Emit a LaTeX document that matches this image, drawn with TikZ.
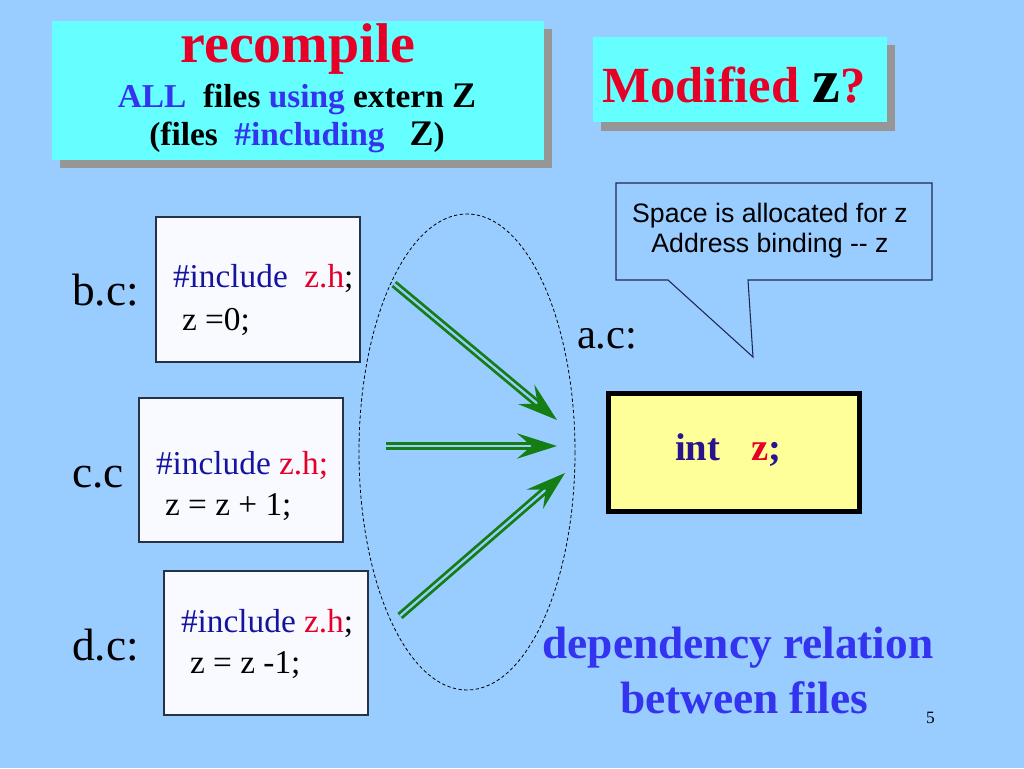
\documentclass[tikz,border=0pt]{standalone}
\usepackage{fontspec}
\setmainfont{Liberation Serif}
\newfontfamily\calloutfont{Liberation Sans}
\usetikzlibrary{arrows.meta}
\definecolor{bg}{RGB}{153,204,255}
\definecolor{cyanbox}{RGB}{102,255,255}
\definecolor{shadowgray}{RGB}{150,150,150}
\definecolor{redtxt}{RGB}{230,0,40}
\definecolor{bluetxt}{RGB}{51,51,240}
\definecolor{navytxt}{RGB}{20,20,160}
\definecolor{inttxt}{RGB}{40,20,140}
\definecolor{arrowgreen}{RGB}{20,125,20}
\definecolor{codefill}{RGB}{248,250,255}
\definecolor{codeborder}{RGB}{40,50,70}
\definecolor{calloutborder}{RGB}{30,40,80}
\definecolor{yellowbox}{RGB}{255,255,153}
\begin{document}
\begin{tikzpicture}[x=0.75pt,y=-0.75pt,
  txt/.style={inner sep=0pt, outer sep=0pt},
  codebox/.style={draw=codeborder, fill=codefill, line width=1.1pt},
  deparrow/.style={draw=arrowgreen, line width=2.1pt, double=bg, double distance=1.7pt,
    -{Stealth[length=30pt, width=19pt, inset=11pt, fill=arrowgreen]}},
  codefont/.style={font=\fontsize{25}{28}\selectfont},
  labelfont/.style={font=\fontsize{34}{38}\selectfont}]
\fill[bg] (0,0) rectangle (1024,768);
\useasboundingbox (0,0) rectangle (1024,768);

% title box
\fill[shadowgray] (60,29) rectangle (552,168);
\fill[cyanbox] (52,21) rectangle (544,160);
\node[txt, anchor=base, font=\fontsize{42}{46}\selectfont\bfseries, text=redtxt] (t1) at (298,62) {recompile};
\node[txt, anchor=base, font=\fontsize{25}{28}\selectfont\bfseries] (t2) at (297,107)
  {\textcolor{bluetxt}{ALL}\ \ files \textcolor{bluetxt}{using} extern {\fontsize{27}{30}\selectfont Z}};
\node[txt, anchor=base, font=\fontsize{25}{28}\selectfont\bfseries] (t3) at (297,145)
  {(files\ \ \textcolor{bluetxt}{\#including}\ \ \ {\fontsize{27}{30}\selectfont Z})};

% modified box
\fill[shadowgray] (601,45) rectangle (895,131);
\fill[cyanbox] (593,37) rectangle (887,122);
\node[txt, anchor=base, font=\fontsize{38}{42}\selectfont\bfseries, text=redtxt] (mod) at (734,102)
  {Modified {\color{black}\fontsize{47}{50}\selectfont z}?};

% callout
\draw[calloutborder, fill=bg, line width=0.8pt, line join=miter]
  (616,183) -- (932,183) -- (932,280) -- (748,280) -- (753,357) -- (668,280) -- (616,280) -- cycle;
\node[txt, anchor=base, font=\calloutfont\fontsize{20}{24}\selectfont] (c1) at (770,222) {Space is allocated for z};
\node[txt, anchor=base, font=\calloutfont\fontsize{20}{24}\selectfont] (c2) at (770,252) {Address binding -- z};

% file labels
\node[txt, anchor=base west, labelfont] (lb) at (72,305) {b.c:};
\node[txt, anchor=base west, labelfont] (lc) at (72,487) {c.c};
\node[txt, anchor=base west, labelfont] (ld) at (72,660) {d.c:};
\node[txt, anchor=base west, font=\fontsize{32}{36}\selectfont] (la) at (577,348) {a.c:};

% code boxes
\draw[codebox] (156,217) rectangle (360,362);
\draw[codebox] (139,398) rectangle (343,542);
\draw[codebox] (164,571) rectangle (368,715);
\node[txt, anchor=base west, codefont] (b1) at (173,287) {\textcolor{navytxt}{\#include}\ \ \textcolor{redtxt}{z.h};};
\node[txt, anchor=base west, codefont] (b2) at (182,330) {z =0;};
\node[txt, anchor=base west, codefont] (c1c) at (156,474) {\textcolor{navytxt}{\#include} \textcolor{redtxt}{z.h;}};
\node[txt, anchor=base west, codefont] (c2c) at (165,515) {z = z + 1;};
\node[txt, anchor=base west, codefont] (d1) at (181,632) {\textcolor{navytxt}{\#include} \textcolor{redtxt}{z.h};};
\node[txt, anchor=base west, codefont] (d2) at (190,673) {z = z -1;};

% ellipse
\draw[black, line width=0.6pt, dash pattern=on 2.5pt off 1.8pt] (467,452) ellipse [x radius=108, y radius=238];

% arrows
\coordinate (s1) at (394,284);
\coordinate (e1) at (557,420);
\coordinate (s2) at (386,446);
\coordinate (e2) at (557,446);
\coordinate (s3) at (400,616);
\coordinate (e3) at (565,473);
\draw[deparrow] (s1) -- (e1);
\draw[deparrow] (s2) -- (e2);
\draw[deparrow] (s3) -- (e3);

% a.c box
\draw[black, fill=yellowbox, line width=3.75pt] (608.5,393.5) rectangle (859.5,511.5);
\node[txt, anchor=base west, font=\fontsize{29}{32}\selectfont\bfseries, text=inttxt] (intz) at (675,460)
  {int\hspace{0.8em}\textcolor{redtxt}{z};};

% bottom text
\node[txt, anchor=base, font=\fontsize{34}{38}\selectfont\bfseries, text=bluetxt] (dep1) at (738,658) {dependency relation};
\node[txt, anchor=base, font=\fontsize{34}{38}\selectfont\bfseries, text=bluetxt] (dep2) at (744,713) {between files};
\node[txt, anchor=base west, font=\fontsize{13}{15}\selectfont] (pg) at (926,723) {5};
\end{tikzpicture}
\end{document}
